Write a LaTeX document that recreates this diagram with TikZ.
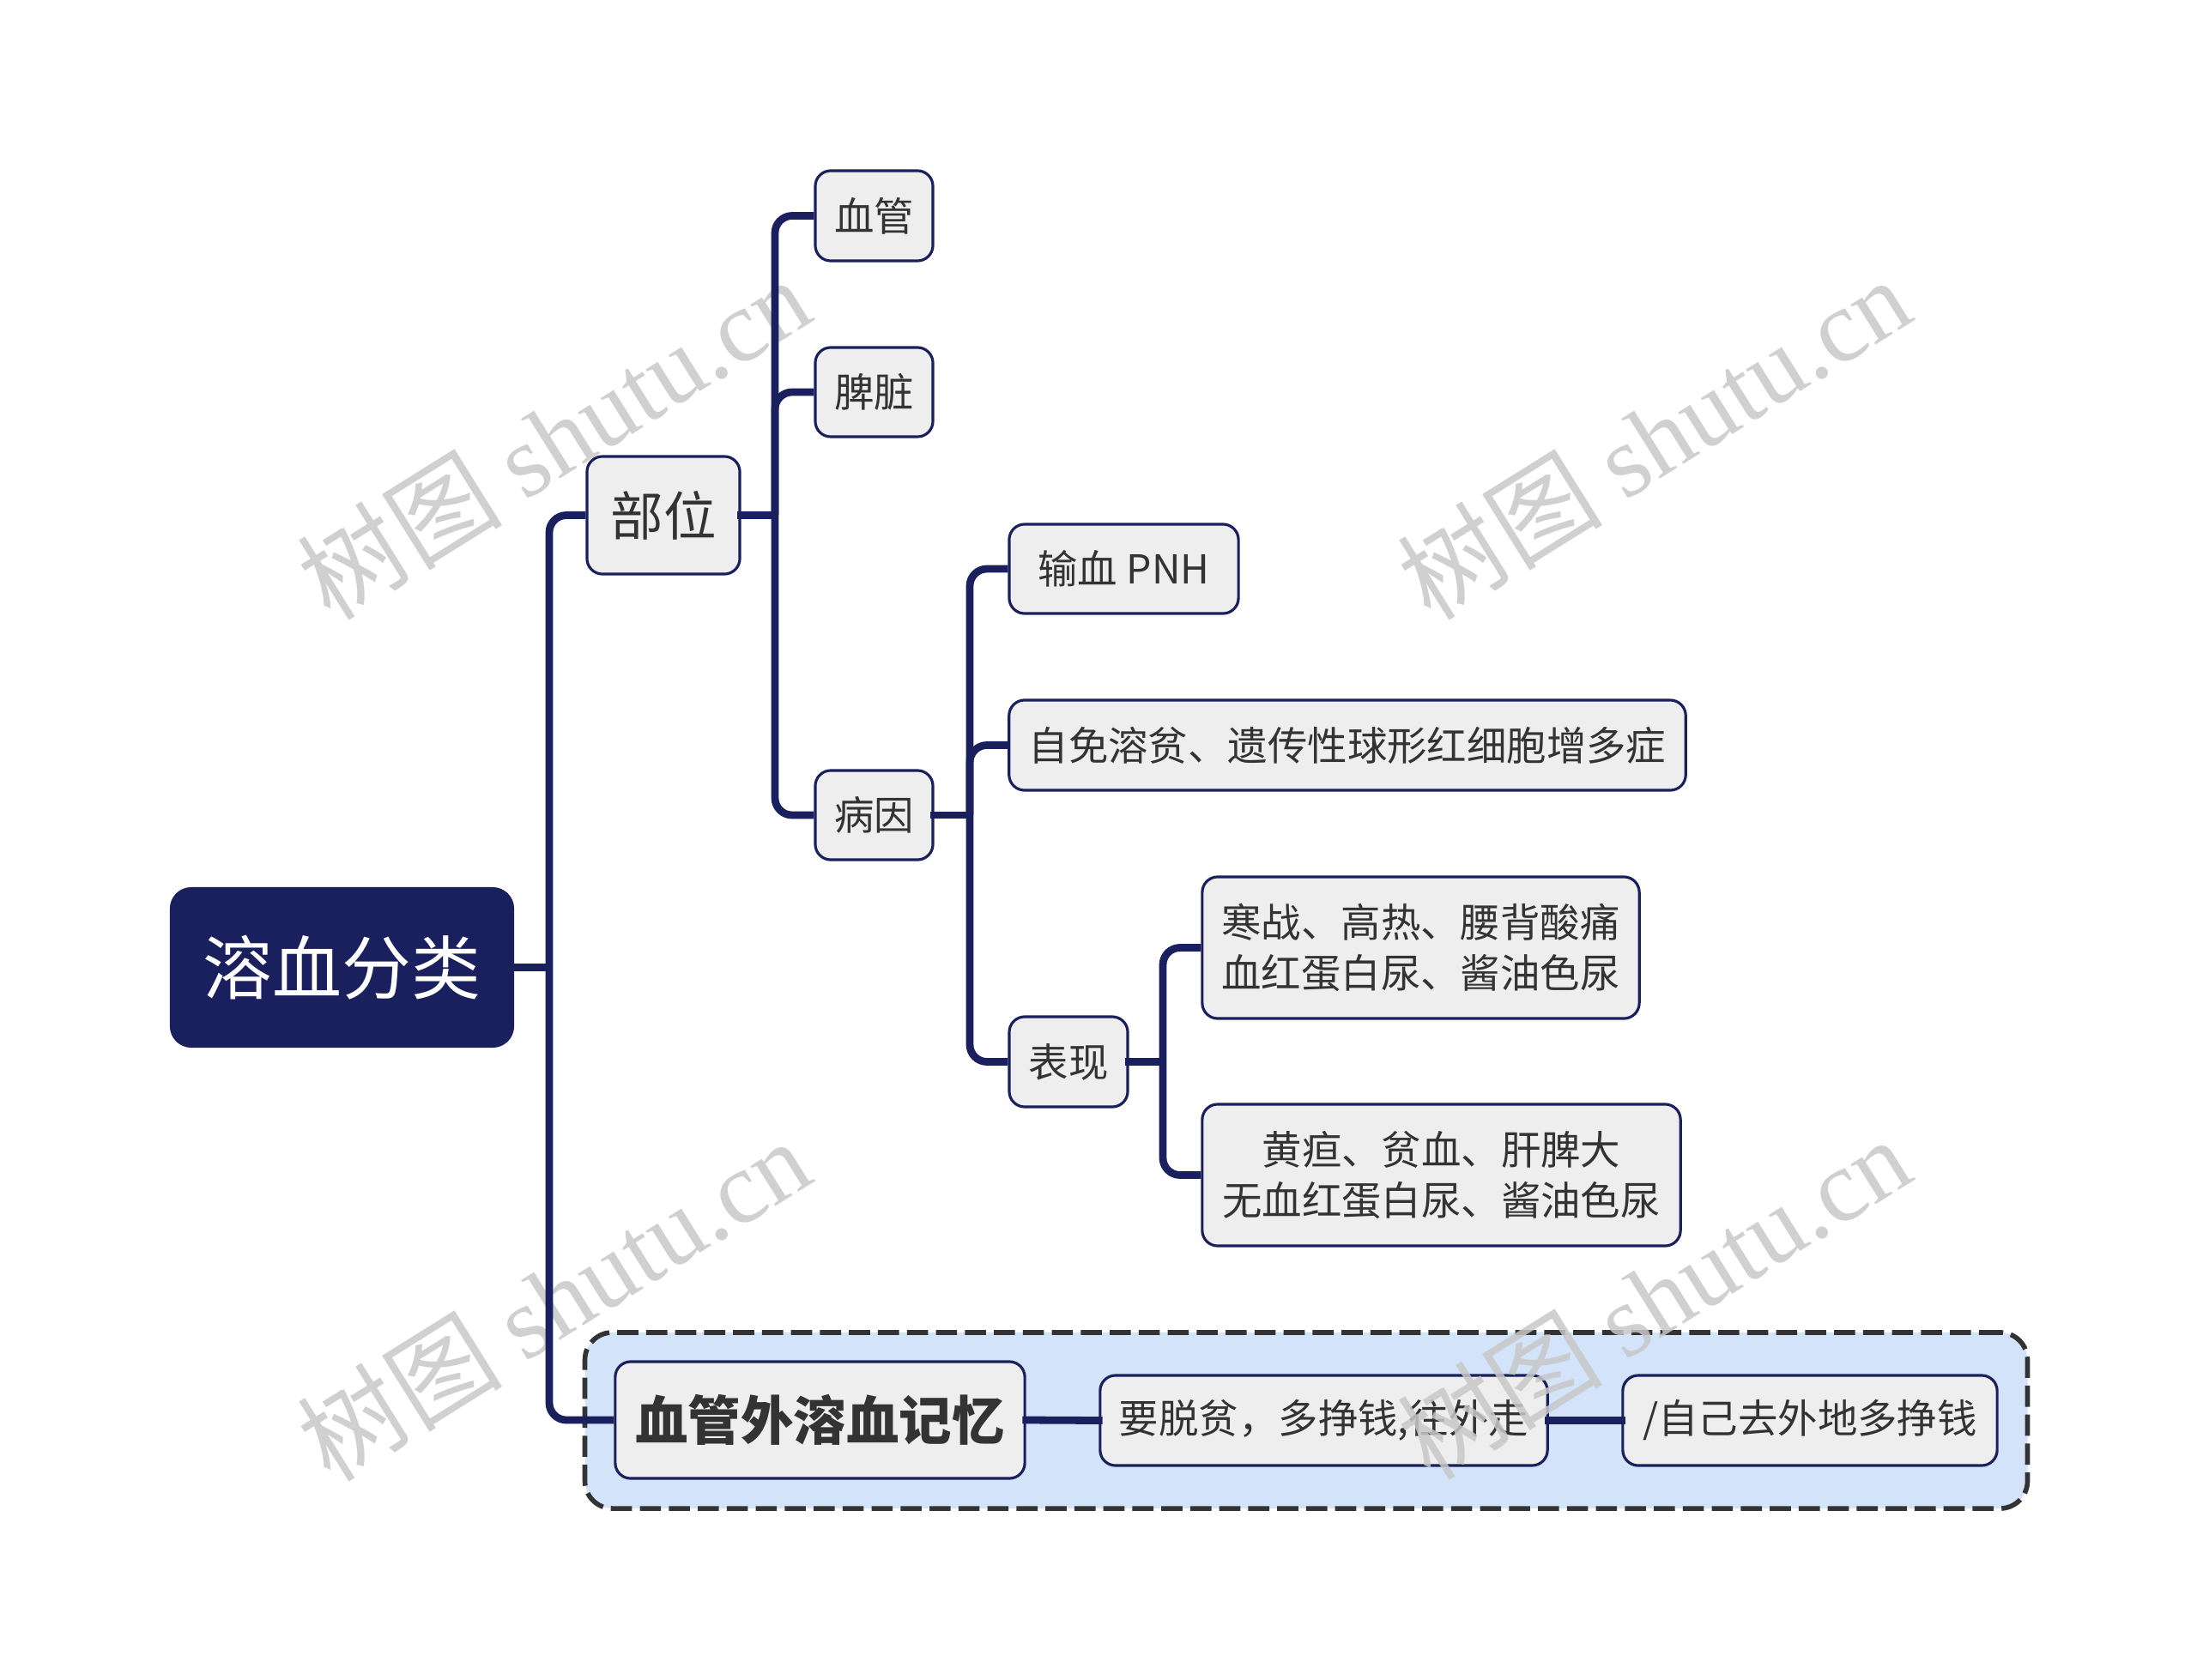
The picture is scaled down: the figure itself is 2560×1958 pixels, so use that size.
\documentclass[tikz,border=0pt]{standalone}
\usepackage{fontspec}
\setmainfont{Noto Sans CJK SC}
\newfontfamily\wmlatin{Liberation Serif}
\definecolor{navy}{HTML}{1A1F5E}
\definecolor{boxfill}{HTML}{EEEEEE}
\definecolor{txt}{HTML}{333333}
\definecolor{dgray}{HTML}{333333}
\definecolor{groupfill}{HTML}{D3E3FA}
\definecolor{wm}{HTML}{C8C8C8}
\begin{document}
\begin{tikzpicture}[x=0.01cm,y=-0.01cm,
  box/.style={draw=navy, line width=0.9pt, fill=boxfill, rounded corners=0.18cm, text=txt,
    font=\fontsize{13.2}{16.9}\selectfont, inner sep=0pt, align=center},
  rootbox/.style={fill=navy, rounded corners=0.25cm, text=white, inner sep=0pt,
    font=\fontsize{23}{28}\selectfont},
  conn/.style={draw=navy, line width=2.5pt, rounded corners=0.2cm},
  stub/.style={draw=navy, line width=2.5pt, line cap=rect},
  grpbox/.style={draw=dgray, dash pattern=on 7pt off 2.6pt, line width=1.6pt, fill=groupfill,
    rounded corners=0.32cm, inner sep=0pt},
  wmark/.style={rotate=32, text=wm, opacity=0.85, font=\fontsize{34}{40}\selectfont}]
\useasboundingbox (0,0) rectangle (2560,1958);

% summary group
\node[grpbox, minimum width=16.80cm, minimum height=2.05cm] (grp) at (1522,1655.5) {};

% nodes
\node[rootbox, minimum width=4.01cm, minimum height=1.87cm] (root) at (398.5,1127.5) {溶血分类};
\node[box, minimum width=1.78cm, minimum height=1.37cm, font=\fontsize{17.5}{21}\selectfont] (bw) at (773,600.5) {部位};
\node[box, minimum width=1.37cm, minimum height=1.05cm] (xg) at (1018.5,251.5) {血管};
\node[box, minimum width=1.37cm, minimum height=1.04cm] (pz) at (1018.5,457) {脾脏};
\node[box, minimum width=1.37cm, minimum height=1.04cm] (by) at (1018.5,950) {病因};
\node[box, minimum width=2.67cm, minimum height=1.04cm] (sx) at (1309.5,663) {输血 PNH};
\node[box, minimum width=7.88cm, minimum height=1.05cm] (zm) at (1570,868.5) {自免溶贫、遗传性球形红细胞增多症};
\node[box, minimum width=1.38cm, minimum height=1.05cm] (bx) at (1245,1237.5) {表现};
\node[box, minimum width=5.09cm, minimum height=1.65cm] (hz) at (1655.5,1104.5) {寒战、高热、腰背酸痛\\血红蛋白尿、酱油色尿};
\node[box, minimum width=5.57cm, minimum height=1.65cm] (hd) at (1679.5,1369.5) {黄疸、贫血、肝脾大\\无血红蛋白尿、酱油色尿};
\node[box, minimum width=4.77cm, minimum height=1.36cm, font=\fontsize{17.5}{21}\selectfont\bfseries] (xgw) at (955.5,1655) {血管外溶血记忆};
\node[box, minimum width=5.21cm, minimum height=1.05cm] (ytp) at (1542.5,1655.5) {要脱贫，多挣钱,往外走};
\node[box, minimum width=4.36cm, minimum height=1.05cm] (zj) at (2109,1655.5) {/自己去外地多挣钱};

% watermarks
\node[wmark] (wm1) at (645,510) {树图 {\wmlatin shutu.cn}};
\node[wmark] (wm2) at (1927,510) {树图 {\wmlatin shutu.cn}};
\node[wmark] (wm3) at (645,1514) {树图 {\wmlatin shutu.cn}};
\node[wmark] (wm4) at (1927,1512) {树图 {\wmlatin shutu.cn}};

% junctions
\coordinate (j0) at (640,1127.5);
\coordinate (j1) at (903,600.5);
\coordinate (j2) at (1130,950);
\coordinate (j3) at (1355,1237.5);

% connectors
\draw[stub] (root.east) -- (j0);
\draw[conn] (j0) |- (bw.west);
\draw[conn] (j0) |- (xgw.west);

\draw[stub] (bw.east) -- (j1);
\draw[conn] (j1) |- (xg.west);
\draw[conn] (j1) |- (pz.west);
\draw[conn] (j1) |- (by.west);

\draw[stub] (by.east) -- (j2);
\draw[conn] (j2) |- (sx.west);
\draw[conn] (j2) |- (zm.west);
\draw[conn] (j2) |- (bx.west);

\draw[stub] (bx.east) -- (j3);
\draw[conn] (j3) |- (hz.west);
\draw[conn] (j3) |- (hd.west);

\draw[stub] (xgw.east) -- (ytp.west);
\draw[stub] (ytp.east) -- (zj.west);
\end{tikzpicture}
\end{document}
